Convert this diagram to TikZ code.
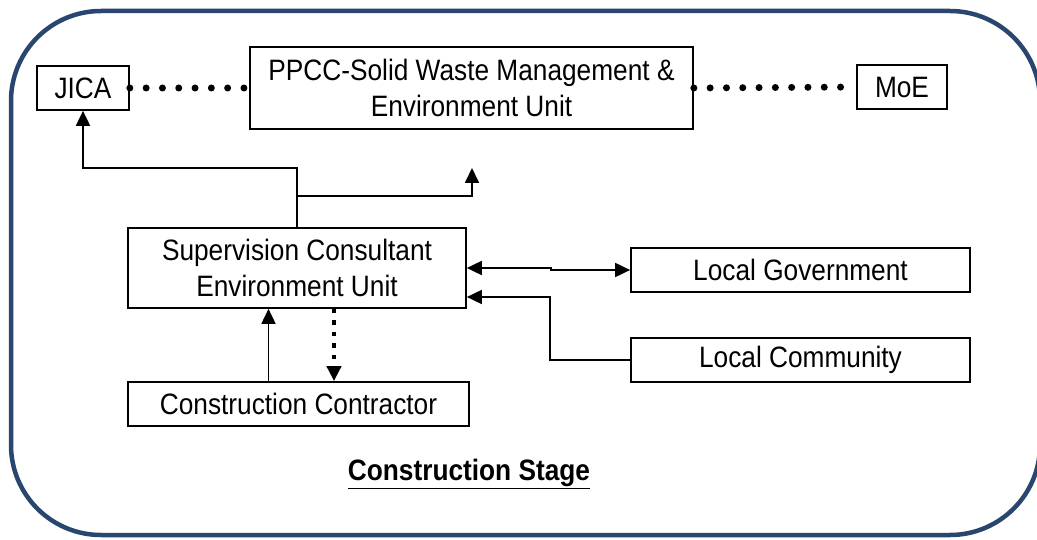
\documentclass[tikz,border=0pt]{standalone}
\usepackage{fontspec}
\setmainfont{Liberation Sans}[FakeStretch=0.89]
\usepackage{tikz}
\usetikzlibrary{arrows.meta,positioning}
\definecolor{stgnavy}{HTML}{29476E}
\tikzset{
  unit/.style={draw=black,line width=1.7pt,fill=white,align=center,inner sep=0pt,font=\fontsize{29.5}{36}\selectfont},
  frame/.style={draw=stgnavy,line width=4.5pt,rounded corners=90pt},
  ar/.style={-{Triangle[length=15pt,width=14pt]},draw=black,line width=1.8pt},
  dar/.style={{Triangle[length=15pt,width=14pt]}-{Triangle[length=15pt,width=14pt]},draw=black,line width=1.8pt},
  dots/.style={draw=black,line width=7pt,line cap=round,dash pattern=on 0pt off 16.3pt},
  sq/.style={ar,line width=4.5pt,dash pattern=on 4.5pt off 7pt,-{Triangle[length=15pt,width=14pt]}},
}
\begin{document}
\begin{tikzpicture}[x=1pt,y=-1pt]
  \useasboundingbox (0,0) rectangle (1037,540);
  \draw[frame] (11,11) rectangle (1040,535);

  \node[unit,minimum width=92pt,minimum height=44pt] (jica) at (83,88) {JICA};
  \node[unit,minimum width=443pt,minimum height=82pt] (ppcc) at (471.5,88) {PPCC-Solid Waste Management \&\\Environment Unit};
  \node[unit,minimum width=90pt,minimum height=44pt] (moe) at (902,87) {MoE};
  \node[unit,minimum width=338pt,minimum height=80pt] (sup) at (297,268) {Supervision Consultant\\Environment Unit};
  \node[unit,minimum width=339pt,minimum height=44pt] (gov) at (800.5,270) {Local Government};
  \node[unit,minimum width=339pt,minimum height=44pt] (com) at (800.5,360) {Local Community};
  \node[unit,minimum width=341pt,minimum height=44pt] (con) at (298.5,404) {Construction Contractor};
  \node[font=\fontsize{29.5}{36}\selectfont\bfseries] (stage) at (469,474) {\underline{Construction Stage}};

  \coordinate (up) at (472,168);
  \coordinate (bend) at (550,297);

  \draw[dots] (jica.east) -- (ppcc.west);
  \draw[dots] (ppcc.east) -- (moe.west);
  \draw[ar] (sup.north) -- ++(0,-59) -| (jica.south);
  \draw[ar] ([yshift=31pt]sup.north) -| (up);
  \draw[dar] (sup.east) -- ++(84,0) |- (gov.west);
  \draw[ar] (com.west) -| (bend) -- (sup.east |- bend);
  \draw[ar] ([xshift=-30pt]con.north) -- ([xshift=-30pt]con.north |- sup.south);
  \draw[sq] ([xshift=37pt]sup.south) -- ([xshift=37pt]sup.south |- con.north);
\end{tikzpicture}
\end{document}
